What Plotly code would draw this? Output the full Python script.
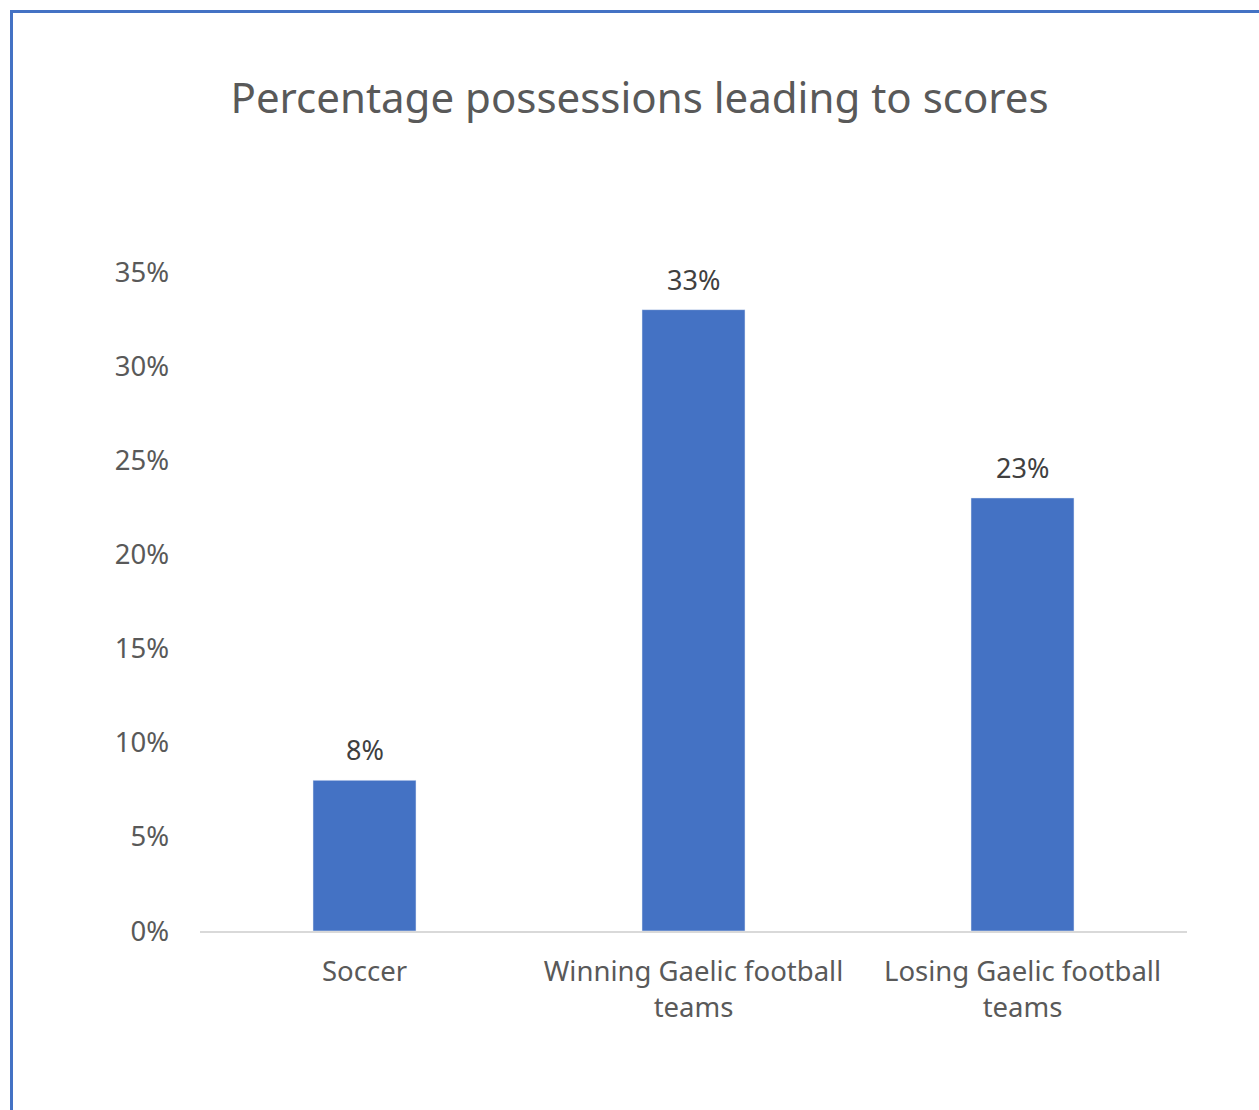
import plotly.graph_objects as go

categories = ["Soccer", "Winning Gaelic football<br>teams", "Losing Gaelic football<br>teams"]
values = [0.08, 0.33, 0.23]
labels = ["8%", "33%", "23%"]
tick_vals = [0, 0.05, 0.10, 0.15, 0.20, 0.25, 0.30, 0.35]
tick_text = ["0%", "5%", "10%", "15%", "20%", "25%", "30%", "35%"]

W, H = 1259, 1110
L, R, T, B = 200, 72, 272, 179
PW, PH = W - L - R, H - T - B

def px(x):
    return (x - L) / PW

def py(y):
    return (H - B - y) / PH

fig = go.Figure(go.Bar(
    x=categories, y=values,
    marker_color="#4472C4", width=0.313,
))

for c, v, t in zip(categories, values, labels):
    fig.add_annotation(x=c, y=v, text=t, showarrow=False, yanchor="bottom", yshift=10,
                       font=dict(family="Noto Sans", size=27, color="#404040"))

shapes = [
    dict(type="line", xref="paper", yref="paper", x0=px(11.5), x1=px(11.5), y0=py(10), y1=py(1115),
         line=dict(color="#4472C4", width=3)),
    dict(type="line", xref="paper", yref="paper", x0=px(10), x1=px(1265), y0=py(11.5), y1=py(11.5),
         line=dict(color="#4472C4", width=3)),
]

fig.update_layout(
    width=W, height=H,
    margin=dict(l=L, r=R, t=T, b=B),
    paper_bgcolor="white", plot_bgcolor="white",
    showlegend=False,
    title=dict(text="Percentage possessions leading to scores", x=0.508, xanchor="center",
               y=1 - 98 / H, yanchor="middle",
               font=dict(family="Noto Sans", size=42, color="#595959")),
    xaxis=dict(showline=True, linecolor="#D9D9D9", linewidth=2, ticks="", ticklabelstandoff=15,
               tickfont=dict(family="Noto Sans", size=27.5, color="#595959")),
    yaxis=dict(range=[0, 0.35], tickvals=tick_vals, ticktext=tick_text, showgrid=False,
               zeroline=False, ticks="", ticklabelstandoff=30,
               tickfont=dict(family="Noto Sans", size=27.5, color="#595959")),
    shapes=shapes,
)

fig.write_html("out.html")
